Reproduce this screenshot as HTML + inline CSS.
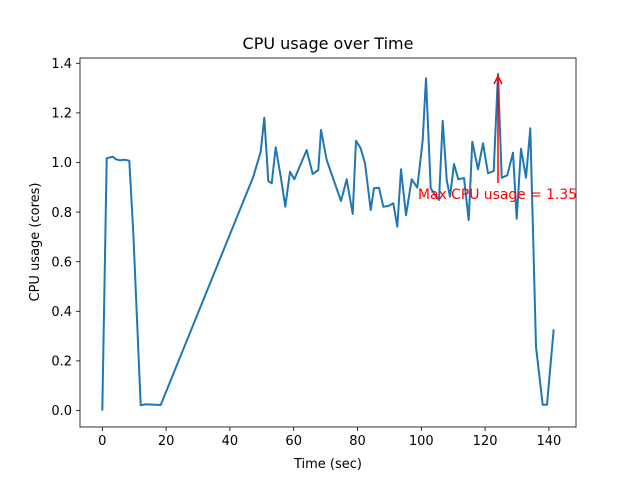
<!DOCTYPE html>
<html><head><style>body{margin:0;background:#fff}svg{display:block}text{font-family:"DejaVu Sans",sans-serif}</style></head><body>
<svg width="640" height="480" viewBox="0 0 640 480">
<rect width="640" height="480" fill="#fff"/>
<text x="328" y="49" font-size="16" text-anchor="middle">CPU usage over Time</text>
<g stroke="#000" stroke-width="0.8">
<line x1="102.3" y1="427" x2="102.3" y2="431"/>
<line x1="166.1" y1="427" x2="166.1" y2="431"/>
<line x1="229.9" y1="427" x2="229.9" y2="431"/>
<line x1="293.7" y1="427" x2="293.7" y2="431"/>
<line x1="357.5" y1="427" x2="357.5" y2="431"/>
<line x1="421.3" y1="427" x2="421.3" y2="431"/>
<line x1="485.1" y1="427" x2="485.1" y2="431"/>
<line x1="548.9" y1="427" x2="548.9" y2="431"/>
<line x1="76" y1="410.5" x2="80" y2="410.5"/>
<line x1="76" y1="360.9" x2="80" y2="360.9"/>
<line x1="76" y1="311.3" x2="80" y2="311.3"/>
<line x1="76" y1="261.7" x2="80" y2="261.7"/>
<line x1="76" y1="212.1" x2="80" y2="212.1"/>
<line x1="76" y1="162.5" x2="80" y2="162.5"/>
<line x1="76" y1="112.9" x2="80" y2="112.9"/>
<line x1="76" y1="63.3" x2="80" y2="63.3"/>
</g>
<g font-size="13" text-anchor="middle">
<text x="102.3" y="445">0</text><text x="166.1" y="445">20</text><text x="229.9" y="445">40</text><text x="293.7" y="445">60</text><text x="357.5" y="445">80</text><text x="421.3" y="445">100</text><text x="485.1" y="445">120</text><text x="548.9" y="445">140</text>
</g>
<g font-size="13" text-anchor="end">
<text x="72" y="415">0.0</text><text x="72" y="365.5">0.2</text><text x="72" y="316">0.4</text><text x="72" y="266.5">0.6</text><text x="72" y="217">0.8</text><text x="72" y="167">1.0</text><text x="72" y="117.5">1.2</text><text x="72" y="68">1.4</text>
</g>
<text x="328" y="468" font-size="13" text-anchor="middle">Time (sec)</text>
<text transform="translate(39,242) rotate(-90)" font-size="13" text-anchor="middle">CPU usage (cores)</text>
<polyline fill="none" stroke="#1f77b4" stroke-width="2" stroke-linejoin="round" points="102.3,410.7 106.7,158.3 112.7,156.7 116,159.3 120,160.3 124.3,159.7 129.3,160.7 133.3,233 140.7,405.3 145,404.3 160.7,405 253.3,176.7 260.7,151.7 264.3,117.7 268.3,181 271.7,183.3 275.7,147.3 281,178.3 285.3,206.7 290,171.7 294.3,179.3 306.7,150 312.7,174 318.3,170 321,130 326.7,160 341,201 346.7,179.3 352.7,214 356,140.7 360.7,148.3 365,163.3 370.7,210 374,188.3 379,187.7 383.3,206.7 388.3,206 393.3,203.3 397.3,226.7 401,169.3 406,215.3 411.7,179.3 417.3,187.7 422.7,140 426,78.3 430.7,188.3 435,195 439,200 442.7,120.7 446.7,180 450,196.7 454,164 458.3,179.3 464,178 468.7,220 472.3,141.7 478,169.3 483,143.3 488,173.3 493.7,171 498,74 501.7,177.7 507.3,175.3 513,152.7 516.7,218.7 521,148.7 526,177.7 530.3,128.3 536,346.7 542.7,404.7 547,404.7 553.7,329.3"/>
<line x1="498" y1="183" x2="498" y2="78" stroke="#f00" stroke-width="1.5"/>
<polyline points="494,84 498,76 502,84" fill="none" stroke="#f00" stroke-width="1.5"/>
<text x="418" y="199" font-size="13.9" fill="#f00">Max CPU usage = 1.35</text>
<rect x="80" y="58" width="496" height="369" fill="none" stroke="#000" stroke-width="0.8"/>
</svg>
</body></html>
